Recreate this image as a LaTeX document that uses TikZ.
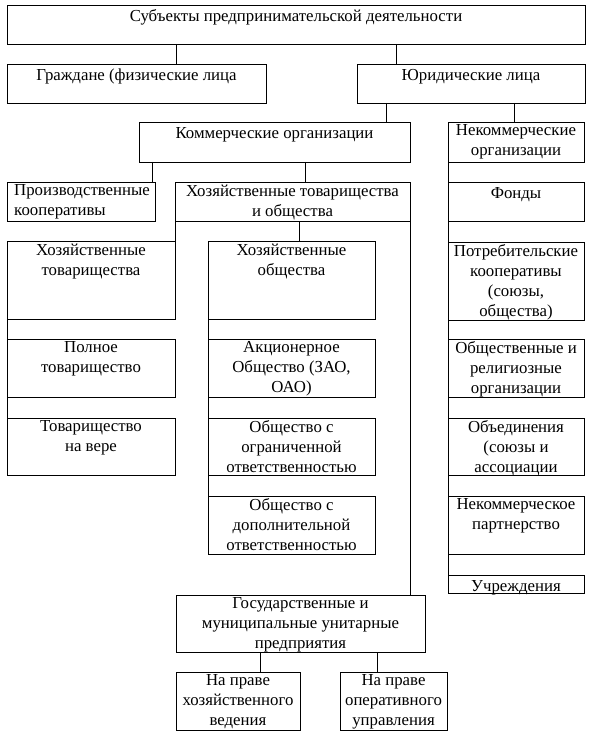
\documentclass[tikz,border=0pt]{standalone}
\usepackage{fontspec}
\setmainfont{Liberation Serif}
\tikzset{
  box/.style={draw, line width=0.8pt, inner sep=0pt, outer sep=0pt},
  txt/.style={anchor=north, align=center, inner sep=0pt, font=\fontsize{16.8}{19.8}\selectfont, execute at begin node=\strut, yshift=-2.5pt},
  conn/.style={line width=0.8pt},
}
\newcommand{\bx}[6]{%
  \node[box, minimum width={(#4-#2)*1pt}, minimum height={(#5-#3)*1pt}] (#1) at ({(#2+#4)/2},{(#3+#5)/2}) {};
  \node[txt] (#1t) at (#1.north) {#6};
}
\begin{document}
\begin{tikzpicture}[x=1pt, y=-1pt]
\useasboundingbox[fill=white] (0,0) rectangle (590,735);
\bx{top}{7}{5}{585}{44}{Субъекты предпринимательской деятельности}
\bx{grazh}{7}{64}{266}{103}{Граждане (физические лица}
\bx{yur}{357}{64}{585}{103}{Юридические лица}
\bx{komm}{139}{122}{410}{162}{Коммерческие организации}
\bx{nekomm}{448}{122}{584}{162}{Некоммерческие\\организации}
\node[box, minimum width=148pt, minimum height=39pt] (proizv) at (81,201.5) {};
\node[txt, anchor=north west, align=left, xshift=7pt] (proizvt) at (proizv.north west) {Производственные\\кооперативы};
\bx{hoz}{175}{182}{410}{221}{Хозяйственные товарищества\\и общества}
\bx{hoztov}{7}{241}{175}{319}{Хозяйственные\\товарищества}
\bx{hozob}{208}{241}{375}{319}{Хозяйственные\\общества}
\bx{poln}{7}{339}{175}{397}{Полное\\товарищество}
\bx{navere}{7}{418}{175}{475}{Товарищество\\на вере}
\bx{akc}{208}{339}{375}{397}{Акционерное\\Общество (ЗАО,\\ОАО)}
\bx{ooo}{208}{418}{375}{475}{Общество с\\ограниченной\\ответственностью}
\bx{odo}{208}{496}{375}{554}{Общество с\\дополнительной\\ответственностью}
\bx{fondy}{448}{182}{584}{221}{Фонды}
\bx{potreb}{448}{242}{584}{320}{Потребительские\\кооперативы\\(союзы,\\общества)}
\bx{obsh}{448}{339}{584}{397}{Общественные и\\религиозные\\организации}
\bx{obed}{448}{418}{584}{475}{Объединения\\(союзы и\\ассоциации}
\bx{nkp}{448}{496}{584}{554}{Некоммерческое\\партнерство}
\bx{uchr}{448}{575}{584}{593}{Учреждения}
\bx{gos}{176}{595}{425}{652}{Государственные и\\муниципальные унитарные\\предприятия}
\bx{prhoz}{176}{672}{300}{730}{На праве\\хозяйственного\\ведения}
\bx{prop}{340}{672}{447}{730}{На праве\\оперативного\\управления}
% connectors
\draw[conn] (top.south -| 176,0) -- (grazh.north -| 176,0);
\draw[conn] (top.south -| 396,0) -- (yur.north -| 396,0);
\draw[conn] (yur.south -| 386,0) -- (komm.north -| 386,0);
\draw[conn] (yur.south -| 514,0) -- (nekomm.north -| 514,0);
\draw[conn] (komm.south -| 152,0) -- (proizv.north -| 152,0);
\draw[conn] (komm.south -| 305,0) -- (hoz.north -| 305,0);
\draw[conn] (hoz.south west) -- (hoztov.north east);
\draw[conn] (hoz.south -| 299,0) -- (hozob.north -| 299,0);
\draw[conn] (hoz.south east) -- (gos.north -| hoz.south east);
\draw[conn] (hoztov.south west) -- (poln.north west);
\draw[conn] (poln.south west) -- (navere.north west);
\draw[conn] (hozob.south west) -- (akc.north west);
\draw[conn] (akc.south west) -- (ooo.north west);
\draw[conn] (ooo.south west) -- (odo.north west);
\draw[conn] (nekomm.south west) -- (fondy.north west);
\draw[conn] (fondy.south west) -- (potreb.north west);
\draw[conn] (potreb.south west) -- (obsh.north west);
\draw[conn] (obsh.south west) -- (obed.north west);
\draw[conn] (obed.south west) -- (nkp.north west);
\draw[conn] (nkp.south west) -- (uchr.north west);
\draw[conn] (gos.south -| 260,0) -- (prhoz.north -| 260,0);
\draw[conn] (gos.south -| 377,0) -- (prop.north -| 377,0);
\end{tikzpicture}
\end{document}
